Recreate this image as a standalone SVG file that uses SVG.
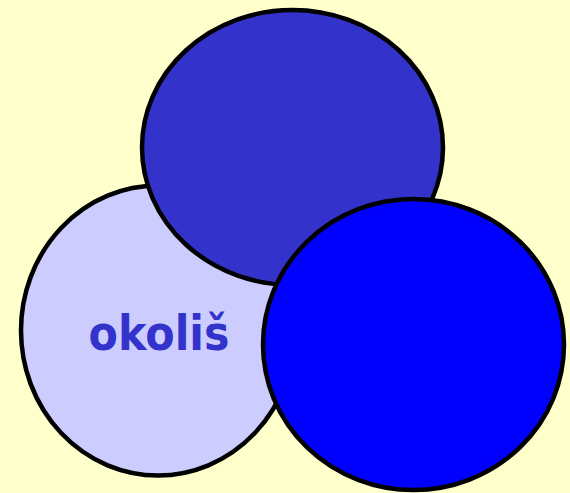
<svg xmlns="http://www.w3.org/2000/svg" width="570" height="493" viewBox="0 0 570 493">
<style>
.c{stroke:#000;stroke-width:4.5}
.t{font-family:"DejaVu Sans","Liberation Sans",sans-serif;font-weight:bold;font-size:48px;fill:#3333CC}
</style>
<rect width="570" height="493" fill="#FFFFCC"/>
<g id="okolis">
<ellipse class="c" cx="158" cy="330.5" rx="137" ry="145" fill="#CCCCFF"/>
<text class="t" x="159" y="350" text-anchor="middle" textLength="141" lengthAdjust="spacingAndGlyphs">okoliš</text>
</g>
<g id="top">
<ellipse class="c" cx="292.5" cy="147.5" rx="150.5" ry="137.5" fill="#3333CC"/>
</g>
<g id="right">
<ellipse class="c" cx="413.5" cy="344.5" rx="150.5" ry="145.5" fill="#0000FF"/>
</g>
<g id="connectors"/>
</svg>
